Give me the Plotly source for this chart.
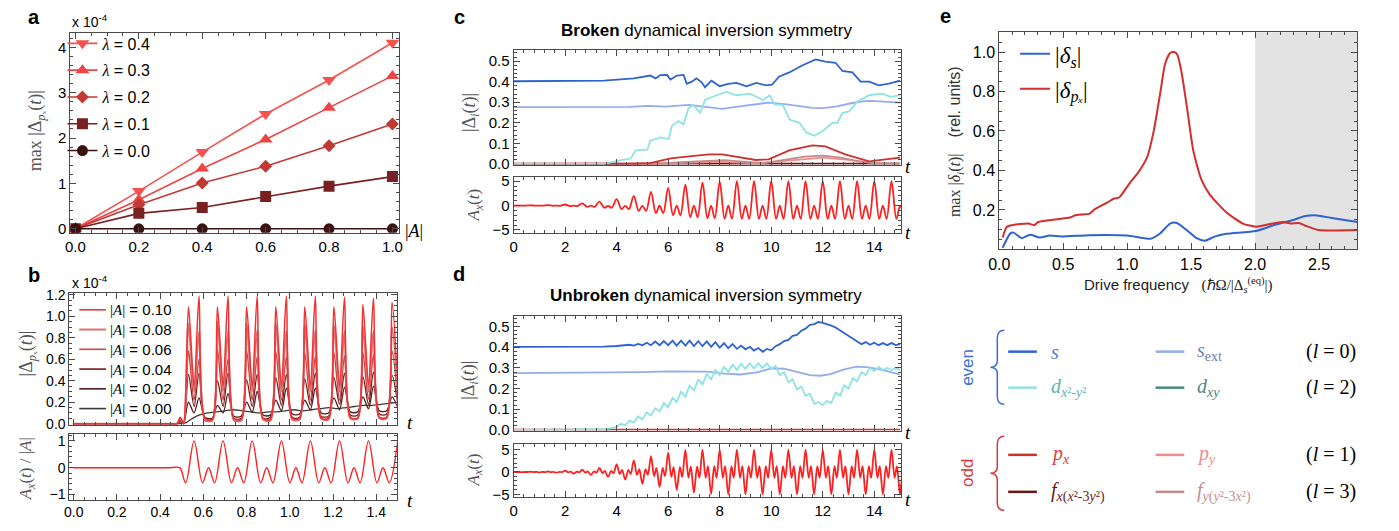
import plotly.graph_objects as go

W, H = 1399, 531
SANS = "Liberation Sans, Arial, sans-serif"
SERIF = "Liberation Serif, Times New Roman, serif"
FRAME = "#4a4a4a"

# ---------------- DATA ----------------
# panel a
a_amp = [0.0, 0.2, 0.4, 0.6, 0.8, 1.0]
a_lam04 = [0.0, 0.83, 1.69, 2.53, 3.28, 4.10]
a_lam03 = [0.0, 0.64, 1.33, 1.97, 2.67, 3.37]
a_lam02 = [0.0, 0.53, 1.01, 1.38, 1.83, 2.31]
a_lam01 = [0.0, 0.34, 0.47, 0.71, 0.94, 1.15]
a_lam00 = [0.0, 0.0, 0.0, 0.0, 0.0, 0.0]

# panel b (drive, normalised)
b_drive_t = [0.0, 0.30, 0.45, 0.490, 0.518, 0.557, 0.596, 0.624, 0.652, 0.691, 0.730, 0.758, 0.787,
             0.826, 0.865, 0.893, 0.922, 0.961, 1.000, 1.028, 1.056, 1.095, 1.134, 1.162, 1.191,
             1.230, 1.269, 1.297, 1.325, 1.364, 1.403, 1.431, 1.460, 1.499]
b_drive = [0.0, 0.0, 0.0, 0.0, -0.56, 1.0, -0.56, 0.0, -0.56, 1.0, -0.56, 0.0, -0.56,
           1.0, -0.56, 0.0, -0.56, 1.0, -0.56, 0.0, -0.56, 1.0, -0.56, 0.0, -0.56,
           1.0, -0.56, 0.0, -0.56, 1.0, -0.56, 0.0, -0.56, 1.0]

# panel b |Delta_px(t)| (x 1e-4), sampled at lobe / notch / valley times of each cycle
b_delta_t = [0.0, 0.45, 0.478, 0.493, 0.508,
             0.531, 0.557, 0.580, 0.607, 0.641,
             0.665, 0.691, 0.714, 0.741, 0.775,
             0.800, 0.826, 0.849, 0.876, 0.910,
             0.935, 0.961, 0.984, 1.011, 1.045,
             1.069, 1.095, 1.118, 1.145, 1.179,
             1.204, 1.230, 1.253, 1.280, 1.314,
             1.338, 1.364, 1.387, 1.414, 1.448,
             1.473, 1.499]
b_d010 = [0, 0, 0, 0.06, 0.0,
          1.09, 0.35, 1.19, 0.05, 0.04,
          1.09, 0.35, 1.19, 0.05, 0.04,
          1.09, 0.35, 1.19, 0.05, 0.04,
          1.09, 0.35, 1.19, 0.05, 0.05,
          1.09, 0.35, 1.19, 0.05, 0.05,
          1.09, 0.35, 1.18, 0.06, 0.05,
          1.11, 0.36, 1.17, 0.06, 0.06,
          1.13, 0.37]
b_d008 = [0, 0, 0, 0.05, 0.0,
          0.93, 0.30, 0.86, 0.04, 0.03,
          0.95, 0.30, 0.86, 0.04, 0.03,
          0.93, 0.30, 0.87, 0.04, 0.03,
          0.93, 0.30, 0.86, 0.04, 0.04,
          0.92, 0.30, 0.87, 0.05, 0.04,
          0.92, 0.30, 0.86, 0.05, 0.05,
          0.91, 0.30, 0.86, 0.05, 0.05,
          0.90, 0.30]
b_d006 = [0, 0, 0, 0.04, 0.0,
          0.68, 0.22, 0.60, 0.03, 0.03,
          0.69, 0.22, 0.60, 0.03, 0.03,
          0.68, 0.22, 0.62, 0.04, 0.04,
          0.67, 0.22, 0.62, 0.04, 0.04,
          0.66, 0.22, 0.62, 0.05, 0.05,
          0.66, 0.22, 0.63, 0.05, 0.05,
          0.66, 0.23, 0.64, 0.06, 0.06,
          0.68, 0.23]
b_d004 = [0, 0, 0, 0.03, 0.0,
          0.46, 0.16, 0.47, 0.04, 0.04,
          0.40, 0.16, 0.47, 0.05, 0.05,
          0.41, 0.16, 0.46, 0.05, 0.06,
          0.43, 0.17, 0.46, 0.06, 0.06,
          0.42, 0.17, 0.47, 0.07, 0.07,
          0.43, 0.18, 0.47, 0.08, 0.08,
          0.44, 0.18, 0.48, 0.09, 0.09,
          0.45, 0.19]
b_d002 = [0, 0, 0, 0.02, 0.0,
          0.20, 0.10, 0.24, 0.06, 0.05,
          0.17, 0.10, 0.28, 0.07, 0.07,
          0.20, 0.11, 0.30, 0.08, 0.08,
          0.22, 0.12, 0.33, 0.09, 0.09,
          0.22, 0.13, 0.33, 0.10, 0.10,
          0.24, 0.13, 0.34, 0.11, 0.11,
          0.25, 0.14, 0.35, 0.12, 0.12,
          0.25, 0.15]
b_d000_t = [0.0, 0.45, 0.49, 0.52, 0.55, 0.58, 0.62, 0.66, 0.70, 0.74, 0.78, 0.82, 0.86, 0.90, 0.94,
            0.98, 1.02, 1.06, 1.10, 1.14, 1.18, 1.22, 1.26, 1.30, 1.34, 1.38, 1.42, 1.46, 1.50]
b_d000 = [0.0, 0.0, 0.0, 0.01, 0.05, 0.08, 0.10, 0.11, 0.12, 0.13, 0.12, 0.11, 0.10, 0.11, 0.11,
          0.12, 0.13, 0.12, 0.13, 0.14, 0.15, 0.14, 0.15, 0.16, 0.17, 0.17, 0.18, 0.19, 0.20]
b_labels = ["0.10", "0.08", "0.06", "0.04", "0.02", "0.00"]

# panels c / d: drive extrema per cycle
drive_peak_t = [0.0, 0.667, 1.333, 2.0, 2.667, 3.333, 4.0, 4.667, 5.333, 6.0, 6.667, 7.333,
                8.0, 8.667, 9.333, 10.0, 10.667, 11.333, 12.0, 12.667, 13.333, 14.0, 14.667]
c_drive_offsets = [0.0, 0.19, 0.333, 0.477]
c_drive_peak = [0.0, 0.05, 0.1, 0.22, 0.45, 0.8, 1.3, 2.0, 2.8, 3.6, 4.3, 4.7,
                4.9, 5.0, 5.0, 5.0, 5.0, 5.0, 5.0, 5.0, 5.0, 5.0, 5.0]
c_drive_trough = [0.0, -0.03, -0.06, -0.12, -0.26, -0.45, -0.72, -1.1, -1.55, -2.0, -2.4, -2.6,
                  -2.7, -2.75, -2.75, -2.75, -2.75, -2.75, -2.75, -2.75, -2.75, -2.75, -2.75]
c_drive_mid = [0.0, 0.0, 0.0, 0.0, 0.0, -0.05, -0.05, -0.05, 0.0, 0.0, 0.0, 0.0,
               0.0, 0.0, 0.0, 0.0, 0.0, 0.0, 0.0, 0.0, 0.0, 0.0, 0.0]
d_drive_offsets = [0.0, 0.122, 0.211, 0.333, 0.456, 0.545]
d_drive_peak = [0.0, 0.05, 0.12, 0.3, 0.5, 0.9, 1.7, 2.6, 3.5, 4.3, 4.9, 5.0,
                5.0, 5.0, 5.0, 5.0, 5.0, 5.0, 5.0, 5.0, 5.0, 5.0, 5.0]
d_drive_trough = [-0.02, -0.07, -0.15, -0.35, -0.65, -1.1, -1.7, -2.6, -3.3, -4.0, -4.6, -4.9,
                  -5.0, -5.0, -5.0, -5.0, -5.0, -5.0, -5.0, -5.0, -5.0, -5.0, -5.0]
d_drive_small = [0.0, 0.02, 0.04, 0.08, 0.15, 0.25, 0.45, 0.65, 0.9, 1.1, 1.25, 1.3,
                 1.3, 1.3, 1.3, 1.3, 1.3, 1.3, 1.3, 1.3, 1.3, 1.3, 1.3]

# panel c order parameters
c_s_t = [0, 3.5, 4.67, 5.06, 5.31, 5.51, 5.7, 5.96, 6.09, 6.34, 6.6, 6.72, 6.92, 7.1, 7.3, 7.43,
         7.68, 8.0, 8.33, 8.65, 9.04, 9.42, 9.8, 10.03, 10.3, 10.7, 11.2, 11.72, 12.1, 12.5, 12.76,
         13.15, 13.47, 13.8, 14.18, 14.57, 15.0]
c_s = [0.402, 0.405, 0.416, 0.424, 0.43, 0.416, 0.432, 0.433, 0.41, 0.43, 0.433, 0.39, 0.40, 0.416,
       0.397, 0.373, 0.405, 0.378, 0.389, 0.394, 0.377, 0.394, 0.382, 0.385, 0.424, 0.445, 0.479,
       0.508, 0.497, 0.492, 0.452, 0.445, 0.40, 0.40, 0.382, 0.39, 0.405]
c_sext_t = [0, 4.5, 5.2, 5.9, 6.8, 7.3, 7.7, 8.1, 8.7, 9.4, 9.9, 10.6, 11.2, 11.6, 12.0, 12.5,
            13.1, 13.6, 13.9, 14.4, 15.0]
c_sext = [0.276, 0.277, 0.282, 0.279, 0.287, 0.28, 0.272, 0.268, 0.279, 0.29, 0.298, 0.29, 0.278,
          0.272, 0.271, 0.279, 0.295, 0.305, 0.307, 0.302, 0.298]
c_dx2_t = [0, 3.52, 4.03, 4.55, 4.74, 5.19, 5.31, 5.7, 6.02, 6.15, 6.4, 6.6, 6.79, 6.98, 7.24, 7.43,
           7.88, 8.26, 8.65, 9.17, 9.68, 9.94, 10.13, 10.45, 10.71, 11.1, 11.36, 11.68, 12.0, 12.38,
           12.57, 12.76, 13.02, 13.34, 13.8, 14.3, 14.63, 15.0]
c_dx2 = [0, 0.0, 0.015, 0.026, 0.066, 0.069, 0.113, 0.129, 0.121, 0.185, 0.208, 0.192, 0.271, 0.287,
         0.247, 0.311, 0.334, 0.35, 0.334, 0.342, 0.311, 0.334, 0.29, 0.287, 0.216, 0.2, 0.153, 0.137,
         0.16, 0.2, 0.2, 0.247, 0.255, 0.303, 0.334, 0.342, 0.326, 0.334]
c_px_t = [0, 4.5, 5.3, 6.1, 6.9, 7.6, 8.1, 8.65, 9.4, 9.9, 10.7, 11.6, 12.1, 12.9, 13.8, 15.0]
c_px = [0, 0.0, 0.004, 0.027, 0.038, 0.046, 0.046, 0.034, 0.019, 0.022, 0.066, 0.09, 0.085, 0.045,
        0.012, 0.03]
c_fy_t = [0, 5.5, 6.5, 7.5, 8.2, 9.0, 9.7, 10.5, 11.3, 12.0, 12.7, 13.4, 14.0, 15.0]
c_fy = [0, 0, 0.008, 0.015, 0.018, 0.01, 0.004, 0.02, 0.035, 0.04, 0.03, 0.012, 0.004, 0.002]
c_py_t = [0, 6.0, 8.0, 9.5, 11.0, 12.0, 13.0, 14.0, 15.0]
c_py = [0, 0.003, 0.01, 0.003, 0.02, 0.03, 0.02, 0.004, 0.0]
c_fx_t = [0, 15.0]
c_fx = [0.001, 0.001]

# panel d order parameters
d_s_t = [0, 3.0, 3.5, 4.0, 4.5, 4.67, 4.83, 5.0, 5.17, 5.33, 5.5, 5.67, 5.83, 6.0, 6.17, 6.33, 6.5,
         6.67, 6.83, 7.0, 7.17, 7.33, 7.5, 7.67, 7.83, 8.0, 8.17, 8.33, 8.5, 8.67, 8.83, 9.0, 9.17,
         9.33, 9.5, 9.67, 9.83, 10.0, 10.17, 10.33, 10.5, 10.67, 10.83, 11.0, 11.17, 11.33, 11.5,
         11.67, 11.83, 12.0, 12.17, 12.33, 12.5, 12.67, 12.83, 13.0, 13.17, 13.33, 13.5, 13.67,
         13.83, 14.0, 14.17, 14.33, 14.5, 14.67, 14.83, 15.0]
d_s = [0.402, 0.402, 0.403, 0.406, 0.412, 0.408, 0.416, 0.41, 0.422, 0.41, 0.428, 0.41, 0.43, 0.41,
       0.432, 0.408, 0.432, 0.408, 0.432, 0.406, 0.43, 0.405, 0.428, 0.402, 0.425, 0.398, 0.42,
       0.395, 0.415, 0.392, 0.408, 0.39, 0.402, 0.384, 0.396, 0.378, 0.392, 0.385, 0.405, 0.415,
       0.43, 0.435, 0.455, 0.46, 0.48, 0.49, 0.508, 0.512, 0.522, 0.518, 0.512, 0.505, 0.495,
       0.482, 0.47, 0.455, 0.44, 0.43, 0.415, 0.425, 0.412, 0.422, 0.41, 0.42, 0.41, 0.42, 0.41,
       0.415]
d_sext_t = [0, 3.0, 5.0, 6.0, 6.8, 7.5, 8.2, 8.8, 9.5, 10.0, 10.5, 11.0, 11.5, 11.9, 12.3, 12.8,
            13.3, 13.8, 14.3, 15.0]
d_sext = [0.275, 0.276, 0.28, 0.283, 0.283, 0.282, 0.272, 0.268, 0.28, 0.298, 0.296, 0.28, 0.265,
          0.262, 0.27, 0.292, 0.306, 0.303, 0.29, 0.268]
d_dx2_t = [0, 3.3, 3.5, 3.83, 4.0, 4.17, 4.33, 4.5, 4.67, 4.83, 5.0, 5.17, 5.33, 5.5, 5.67, 5.83,
           6.0, 6.17, 6.33, 6.5, 6.67, 6.83, 7.0, 7.17, 7.33, 7.5, 7.67, 7.83, 8.0, 8.17, 8.33, 8.5,
           8.67, 8.83, 9.0, 9.17, 9.33, 9.5, 9.67, 9.83, 10.0, 10.17, 10.33, 10.5, 10.67, 10.83,
           11.0, 11.17, 11.33, 11.5, 11.67, 11.83, 12.0, 12.17, 12.33, 12.5, 12.67, 12.83, 13.0,
           13.17, 13.33, 13.5, 13.67, 13.83, 14.0, 14.17, 14.33, 14.5, 14.67, 14.83, 15.0]
d_dx2 = [0, 0.0, 0.003, 0.01, 0.015, 0.03, 0.022, 0.045, 0.035, 0.065, 0.05, 0.085, 0.07, 0.105,
         0.09, 0.13, 0.11, 0.155, 0.135, 0.185, 0.16, 0.215, 0.19, 0.245, 0.22, 0.27, 0.245, 0.29,
         0.265, 0.305, 0.28, 0.315, 0.29, 0.32, 0.295, 0.322, 0.298, 0.322, 0.3, 0.322, 0.295, 0.31,
         0.265, 0.28, 0.23, 0.245, 0.195, 0.21, 0.165, 0.175, 0.125, 0.135, 0.12, 0.14, 0.13, 0.18,
         0.165, 0.215, 0.2, 0.25, 0.235, 0.28, 0.265, 0.3, 0.285, 0.305, 0.29, 0.3, 0.29, 0.298, 0.29]
d_px_t = [0, 15.0]
d_px = [0.001, 0.001]

# panel e
e_freq_px = [0.026, 0.059, 0.098, 0.227, 0.273, 0.304, 0.562, 0.588, 0.652, 0.704, 0.743, 0.846,
             0.898, 0.937, 1.02, 1.09, 1.156, 1.207, 1.259, 1.297, 1.336, 1.367, 1.393, 1.426,
             1.465, 1.517, 1.581, 1.646, 1.775, 1.904, 2.007, 2.110, 2.213, 2.278, 2.342, 2.394,
             2.497, 2.8]
e_px = [0.06, 0.115, 0.123, 0.131, 0.123, 0.139, 0.163, 0.172, 0.177, 0.18, 0.202, 0.238, 0.258,
        0.263, 0.336, 0.393, 0.467, 0.598, 0.795, 0.942, 0.995, 1.0, 0.985, 0.894, 0.73, 0.50,
        0.352, 0.278, 0.188, 0.131, 0.115, 0.128, 0.139, 0.131, 0.134, 0.120, 0.098, 0.098]
e_freq_s = [0.026, 0.085, 0.111, 0.175, 0.24, 0.317, 0.394, 0.485, 0.704, 1.001, 1.182, 1.259,
            1.336, 1.388, 1.465, 1.543, 1.607, 1.684, 1.775, 2.007, 2.162, 2.291, 2.394, 2.485,
            2.600, 2.8]
e_s = [0.008, 0.08, 0.085, 0.057, 0.074, 0.06, 0.070, 0.065, 0.072, 0.07, 0.054, 0.082, 0.131,
       0.134, 0.098, 0.057, 0.044, 0.065, 0.079, 0.093, 0.126, 0.148, 0.169, 0.172, 0.159, 0.139]
e_shade = [2.0, 2.8]

# ---------------- COLOURS ----------------
C_S, C_SEXT, C_DX2, C_DXY = "#2f63d1", "#93acea", "#8ee3e3", "#4a8a80"
C_PX, C_PY, C_FX, C_FY = "#d22f2f", "#f08c8c", "#6b1515", "#c48a8a"
C_DRIVE = "#ff1f1f"


def fx(p):
    return p / W


def fy(p):
    return 1 - p / H


fig = go.Figure()
shapes = []
ann = []


def A(text, x, y, size=15, family=SANS, color="black", xanchor="center", yanchor="middle", angle=0):
    ann.append(dict(text=text, x=fx(x), y=fy(y), xref="paper", yref="paper", showarrow=False,
                    xanchor=xanchor, yanchor=yanchor, textangle=angle,
                    font=dict(family=family, size=size, color=color)))


def key(x0, x1, y, col, width=2.5):
    shapes.append(dict(type="line", xref="paper", yref="paper", x0=fx(x0), x1=fx(x1), y0=fy(y), y1=fy(y),
                       line=dict(color=col, width=width)))


# ---------- panel a ----------
a_series = [("0.4", a_lam04, "triangle-down", "#f5524f", 12),
            ("0.3", a_lam03, "triangle-up", "#ee4444", 12),
            ("0.2", a_lam02, "diamond", "#c23834", 10),
            ("0.1", a_lam01, "square", "#7b2020", 11),
            ("0.0", a_lam00, "circle", "#3b1010", 11)]
for lab, vals, sym, col, ms in a_series:
    fig.add_trace(go.Scatter(x=a_amp, y=vals, mode="lines+markers", xaxis="x", yaxis="y",
                             line=dict(color=col, width=1.6),
                             marker=dict(symbol=sym, size=ms, color=col),
                             name='<span style="font-family:Liberation Serif"><i>λ</i></span> = ' + lab,
                             legend="legend", legendgroup="a" + lab))

# ---------- panel b ----------
b_series = [("0.00", b_d000_t, b_d000, "#3a3a3a", 1.3),
            ("0.02", b_delta_t, b_d002, "#4d1c1c", 1.3),
            ("0.04", b_delta_t, b_d004, "#7a1818", 1.3),
            ("0.06", b_delta_t, b_d006, "#c44848", 1.5),
            ("0.08", b_delta_t, b_d008, "#e27070", 2.0),
            ("0.10", b_delta_t, b_d010, "#f03232", 1.5)]
for lab, tt, vals, col, lw in b_series:
    fig.add_trace(go.Scatter(x=tt, y=vals, mode="lines", xaxis="x2", yaxis="y2",
                             line=dict(color=col, width=lw, shape="spline", smoothing=0.8),
                             showlegend=False))
# manual legend for panel b (top row = 0.10)
for i, (lab, tt, vals, col, lw) in enumerate(reversed(b_series)):
    yrow = 312 + 20.3 * i
    key(69, 96, yrow, col, width=max(lw, 1.6))
    A('<span style="font-family:Liberation Serif">|<i>A</i>|</span> = ' + lab, 98, yrow, size=15,
      xanchor="left")

fig.add_trace(go.Scatter(x=b_drive_t, y=b_drive, mode="lines", xaxis="x3", yaxis="y3",
                         line=dict(color=C_DRIVE, width=1.4, shape="spline", smoothing=1.0),
                         showlegend=False))


# ---------- drives c and d ----------
def build_c():
    tt, vv = [], []
    for tk, P, T, M in zip(drive_peak_t, c_drive_peak, c_drive_trough, c_drive_mid):
        for off, v in zip(c_drive_offsets, [P, T, M, T]):
            tt.append(tk + off)
            vv.append(v)
    return tt, vv


def build_d():
    tt, vv = [], []
    for tk, P, Q, s in zip(drive_peak_t, d_drive_peak, d_drive_trough, d_drive_small):
        for off, v in zip(d_drive_offsets, [P, -s, s, Q, s, -s]):
            tt.append(tk + off)
            vv.append(v)
    return tt, vv


ct, cv = build_c()
dt, dv = build_d()
fig.add_trace(go.Scatter(x=ct, y=cv, mode="lines", xaxis="x5", yaxis="y5",
                         line=dict(color=C_DRIVE, width=1.8, shape="spline", smoothing=1.0),
                         showlegend=False))
fig.add_trace(go.Scatter(x=dt, y=dv, mode="lines", xaxis="x7", yaxis="y7",
                         line=dict(color=C_DRIVE, width=1.8, shape="spline", smoothing=1.0),
                         showlegend=False))

# ---------- panel c top ----------
for tt, vv, col in [(c_fx_t, c_fx, C_FX), (c_py_t, c_py, C_PY), (c_fy_t, c_fy, C_FY),
                    (c_px_t, c_px, C_PX), (c_sext_t, c_sext, C_SEXT), (c_dx2_t, c_dx2, C_DX2),
                    (c_s_t, c_s, C_S)]:
    fig.add_trace(go.Scatter(x=tt, y=vv, mode="lines", xaxis="x4", yaxis="y4",
                             line=dict(color=col, width=1.8), showlegend=False))

# ---------- panel d top ----------
for tt, vv, col in [(d_px_t, d_px, C_PX), (d_sext_t, d_sext, C_SEXT), (d_dx2_t, d_dx2, C_DX2),
                    (d_s_t, d_s, C_S)]:
    fig.add_trace(go.Scatter(x=tt, y=vv, mode="lines", xaxis="x6", yaxis="y6",
                             line=dict(color=col, width=1.8), showlegend=False))

# ---------- panel e ----------
fig.add_trace(go.Scatter(x=e_freq_s, y=e_s, mode="lines", xaxis="x8", yaxis="y8",
                         line=dict(color="#2f63d1", width=2, shape="spline", smoothing=0.6),
                         name="|<i>δ<sub>s</sub></i>|", legend="legend3", legendgroup="es"))
fig.add_trace(go.Scatter(x=e_freq_px, y=e_px, mode="lines", xaxis="x8", yaxis="y8",
                         line=dict(color="#d22f2f", width=2, shape="spline", smoothing=0.6),
                         name="|<i>δ<sub>pₓ</sub></i>|", legend="legend3", legendgroup="epx"))


# ---------------- AXES ----------------
def ax(dom, rng, dtick, mdtick, anchor, labels=True, fs=15, fmt=None, tickvals=None):
    d = dict(domain=dom, range=rng, anchor=anchor, showline=True, mirror="allticks",
             linecolor=FRAME, linewidth=1, ticks="inside", ticklen=6, tickwidth=1,
             tickcolor=FRAME, showgrid=False, zeroline=False, showticklabels=labels,
             tickfont=dict(family=SANS, size=fs, color="black"), fixedrange=True,
             minor=dict(ticks="inside", ticklen=3, tickcolor=FRAME, dtick=mdtick, showgrid=False))
    if tickvals is not None:
        d["tickvals"] = tickvals
    else:
        d["dtick"] = dtick
        d["tick0"] = 0
    if fmt:
        d["tickformat"] = fmt
    return d


xa = [fx(60), fx(392)]
ya = [fy(233), fy(28)]
xb = [fx(59), fx(390)]
xcd = [fx(508), fx(900)]
xe = [fx(999), fx(1361)]

layout_axes = dict(
    xaxis=ax(xa, [-0.016, 1.02], 0.2, 0.05, "y", fmt=".1f"),
    yaxis=ax(ya, [-0.09, 4.31], 1, 0.2, "x"),
    xaxis2=ax(xb, [-0.02, 1.495], 0.2, 0.05, "y2", labels=False),
    yaxis2=ax([fy(430), fy(295)], [-0.009, 1.215], 0.2, 0.05, "x2", fs=14, fmt=".1f"),
    xaxis3=ax(xb, [-0.02, 1.495], 0.2, 0.05, "y3", fs=14, fmt=".1f"),
    yaxis3=ax([fy(507), fy(440)], [-1.19, 1.24], 1, 0.2, "x3", fs=14),
    xaxis4=ax(xcd, [0, 15.05], 2, 0.4, "y4", labels=False),
    yaxis4=ax([fy(163), fy(45)], [-0.004, 0.555], 0.1, 0.02, "x4", fmt=".1f"),
    xaxis5=ax(xcd, [0, 15.05], 2, 0.4, "y5"),
    yaxis5=ax([fy(232.7), fy(175.7)], [-5.55, 5.85], 5, 1, "x5"),
    xaxis6=ax(xcd, [0, 15.05], 2, 0.4, "y6", labels=False),
    yaxis6=ax([fy(436), fy(318)], [-0.003, 0.553], 0.1, 0.02, "x6", fmt=".1f"),
    xaxis7=ax(xcd, [0, 15.05], 2, 0.4, "y7"),
    yaxis7=ax([fy(504), fy(450)], [-5.5, 6.2], 5, 1, "x7"),
    xaxis8=ax(xe, [0, 2.8], 0.5, 0.1, "y8", fs=16, fmt=".1f"),
    yaxis8=ax([fy(250), fy(27)], [0, 1.1], 0.2, 0.05, "x8", fs=16, fmt=".1f",
              tickvals=[0.2, 0.4, 0.6, 0.8, 1.0]),
)

# ---------------- ANNOTATIONS ----------------
for letter, lx, ly in [("a", 15, 11), ("b", 15, 276), ("c", 446, 11), ("d", 445, 275), ("e", 937, 10)]:
    A("<b>%s</b>" % letter, lx, ly, size=20, xanchor="left")

A("x 10<sup>-4</sup>", 60, 15, size=14, xanchor="left")
A("x 10<sup>-4</sup>", 60, 283, size=14, xanchor="left")

GRAY = "#555555"
A("max |Δ<sub><i>p</i>ₓ</sub>(<i>t</i>)|", 26, 128, size=18, family=SERIF, color=GRAY, angle=-90)
A("|Δ<sub><i>p</i>ₓ</sub>(<i>t</i>)|", 17, 357, size=18, family=SERIF, color=GRAY, angle=-90)
A("<i>A<sub>x</sub></i>(<i>t</i>) / |<i>A</i>|", 17, 475, size=17, family=SERIF, color=GRAY, angle=-90)
A("|Δ<sub><i>i</i></sub>(<i>t</i>)|", 464, 110, size=18, family=SERIF, color=GRAY, angle=-90)
A("<i>A<sub>x</sub></i>(<i>t</i>)", 469, 204, size=17, family=SERIF, color=GRAY, angle=-90)
A("|Δ<sub><i>i</i></sub>(<i>t</i>)|", 464, 385, size=18, family=SERIF, color=GRAY, angle=-90)
A("<i>A<sub>x</sub></i>(<i>t</i>)", 469, 476, size=17, family=SERIF, color=GRAY, angle=-90)
A('max |<i>δ<sub>i</sub></i>(<i>t</i>)|    <span style="font-family:Liberation Sans">(rel. units)</span>',
  955, 139, size=16, family=SERIF, color="#333333", angle=-90)

A("|<i>A</i>|", 407, 231, size=18, family=SERIF)
for (tx, ty) in [(403, 428), (403, 508), (907, 165), (907, 233), (907, 438), (907, 507)]:
    A("<i>t</i>", tx, ty, size=19, family=SERIF)

A("<b>Broken</b> dynamical inversion symmetry", 703, 25, size=17)
A("<b>Unbroken</b> dynamical inversion symmetry", 703, 297, size=17)

A('Drive frequency   <span style="font-family:Liberation Serif">(ℏΩ/|Δ<sub><i>s</i></sub><sup>(eq)</sup>|)</span>',
  1180, 287, size=15, color="#222222")

# ---- shading in e ----
shapes.append(dict(type="rect", xref="x8", yref="y8 domain", x0=e_shade[0], x1=e_shade[1], y0=0, y1=1,
                   fillcolor="#e3e3e3", line=dict(width=0), layer="below"))


# ---- orbital legend (bottom right) ----
def brace(xr, xm, xc, y0, y1, col):
    ym = (y0 + y1) / 2
    pts = lambda x, y: "%.5f,%.5f" % (fx(x), fy(y))
    path = ("M " + pts(xr, y0) + " Q " + pts(xm, y0) + " " + pts(xm, y0 + 8) +
            " L " + pts(xm, ym - 7) + " Q " + pts(xm, ym) + " " + pts(xc, ym) +
            " Q " + pts(xm, ym) + " " + pts(xm, ym + 7) +
            " L " + pts(xm, y1 - 8) + " Q " + pts(xm, y1) + " " + pts(xr, y1))
    shapes.append(dict(type="path", xref="paper", yref="paper", path=path,
                       line=dict(color=col, width=1.5)))


brace(1004, 997, 990, 333, 409, "#3a6fd8")
brace(1004, 997, 990, 442, 518, "#d23c3c")
A("even", 967, 371, size=17, color="#3a6fd8", angle=-90)
A("odd", 967, 480, size=17, color="#d23c3c", angle=-90)

rows = [
    (355, C_S, "<i>s</i>", "#4f78d8", C_SEXT, "<i>s</i><sub>ext</sub>", "#6f80b5", "(<i>l</i> = 0)"),
    (392, C_DX2, "<i>d</i><sub><i>x</i>²-<i>y</i>²</sub>", "#5fb5b0", C_DXY, "<i>d</i><sub><i>xy</i></sub>",
     "#4d8c85", "(<i>l</i> = 2)"),
    (461, C_PX, "<i>p</i><sub><i>x</i></sub>", "#d84040", C_PY, "<i>p</i><sub><i>y</i></sub>", "#f08a8a",
     "(<i>l</i> = 1)"),
    (499, C_FX, "<i>f</i><sub><i>x</i>(<i>x</i>²-3<i>y</i>²)</sub>", "#6b1a1a", C_FY,
     "<i>f</i><sub><i>y</i>(<i>y</i>²-3<i>x</i>²)</sub>", "#c49090", "(<i>l</i> = 3)"),
]
for y, c1, t1, tc1, c2, t2, tc2, lbl in rows:
    key(1008, 1037, y, c1)
    key(1157, 1186, y, c2)
    A(t1, 1049, y, size=20, family=SERIF, color=tc1, xanchor="left")
    A(t2, 1197, y, size=20, family=SERIF, color=tc2, xanchor="left")
    A(lbl, 1307, y, size=20, family=SERIF, color="black", xanchor="left")

fig.update_layout(
    width=W, height=H, autosize=False,
    margin=dict(l=0, r=0, t=0, b=0),
    paper_bgcolor="white", plot_bgcolor="white",
    font=dict(family=SANS, size=15, color="black"),
    annotations=ann, shapes=shapes,
    legend=dict(x=fx(52), y=fy(21), xanchor="left", yanchor="top", bgcolor="rgba(0,0,0,0)",
                font=dict(family=SANS, size=16, color="black"), traceorder="grouped",
                tracegroupgap=3, itemwidth=30),
    legend3=dict(x=fx(1015), y=fy(27), xanchor="left", yanchor="top", bgcolor="rgba(0,0,0,0)",
                 font=dict(family=SERIF, size=23, color="black"), traceorder="grouped",
                 tracegroupgap=2, itemwidth=30),
    **layout_axes,
)

fig.write_html("out.html")
